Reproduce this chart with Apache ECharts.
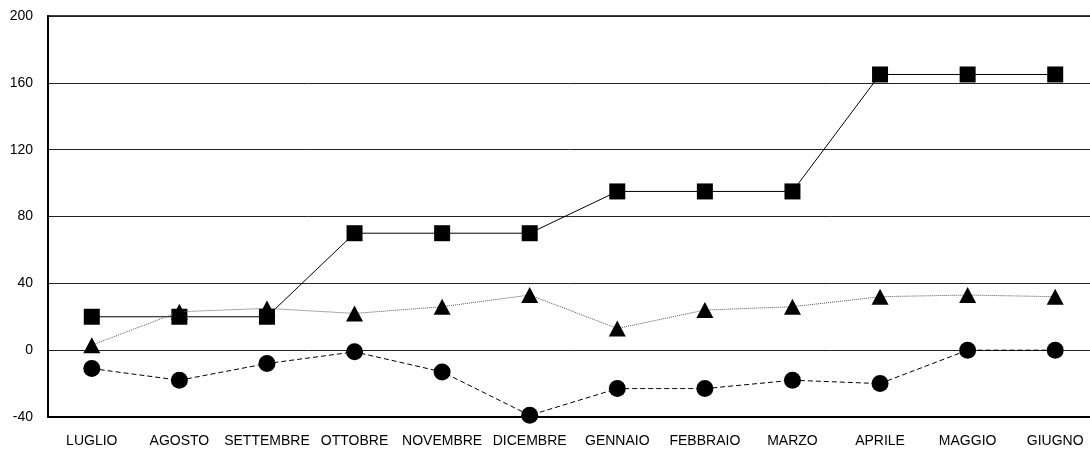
<!DOCTYPE html>
<html>
<head>
<meta charset="utf-8">
<script src="https://cdn.jsdelivr.net/npm/echarts@6/dist/echarts.min.js"></script>
<style>
  html, body { margin: 0; padding: 0; background: #fff; }
  #chart { width: 1090px; height: 450px; }
</style>
</head>
<body>
<div id="chart"></div>
<script>
// months (Italian fiscal year, July to June)
const months = ['LUGLIO', 'AGOSTO', 'SETTEMBRE', 'OTTOBRE', 'NOVEMBRE', 'DICEMBRE',
  'GENNAIO', 'FEBBRAIO', 'MARZO', 'APRILE', 'MAGGIO', 'GIUGNO'];

// series
const squareValues = [20, 20, 20, 70, 70, 70, 95, 95, 95, 165, 165, 165];
const triangleValues = [3, 23, 25, 22, 26, 33, 13, 24, 26, 32, 33, 32];
const circleValues = [-11, -18, -8, -1, -13, -39, -23, -23, -18, -20, 0, 0];

const yMin = -40;
const yMax = 200;
const yStep = 40;

const chart = echarts.init(document.getElementById('chart'));

const option = {
  animation: false,
  backgroundColor: '#fff',
  textStyle: { fontFamily: 'Liberation Sans, Arial, sans-serif' },
  grid: {
    left: 48,
    top: 16,
    width: 1051,   // the plot runs past the right edge in the original
    bottom: 33,
    outerBoundsMode: 'none',
    containLabel: false,
    show: true,
    borderColor: '#000',
    borderWidth: 1.5
  },
  xAxis: {
    type: 'category',
    data: months,
    boundaryGap: true,
    axisLine: { show: true, onZero: false, lineStyle: { color: '#000', width: 2 } },
    axisTick: { show: false },
    axisLabel: {
      interval: 0,
      margin: 17,
      color: '#000',
      fontSize: 14,
      fontFamily: 'Liberation Sans, Arial, sans-serif'
    },
    splitLine: { show: false }
  },
  yAxis: {
    type: 'value',
    min: yMin,
    max: yMax,
    interval: yStep,
    axisLine: { show: true, lineStyle: { color: '#000', width: 2 } },
    axisTick: { show: false },
    axisLabel: {
      margin: 15,
      color: '#000',
      fontSize: 14,
      fontFamily: 'Liberation Sans, Arial, sans-serif'
    },
    splitLine: { show: true, lineStyle: { color: '#222', width: 1 } }
  },
  series: [
    {
      name: 'quadrati',
      type: 'line',
      data: squareValues,
      symbol: 'rect',
      symbolSize: 16,
      itemStyle: { color: '#000' },
      lineStyle: { color: '#000', width: 1 },
      z: 3
    },
    {
      name: 'triangoli',
      type: 'line',
      data: triangleValues,
      symbol: 'triangle',
      symbolSize: [17, 16],
      itemStyle: { color: '#000' },
      lineStyle: { color: '#555', width: 1, type: 'dotted' },
      z: 4
    },
    {
      name: 'cerchi',
      type: 'line',
      data: circleValues,
      symbol: 'circle',
      symbolSize: 17,
      itemStyle: { color: '#000' },
      lineStyle: { color: '#000', width: 1, type: [5, 3] },
      z: 3
    }
  ]
};

chart.setOption(option);
</script>
</body>
</html>
